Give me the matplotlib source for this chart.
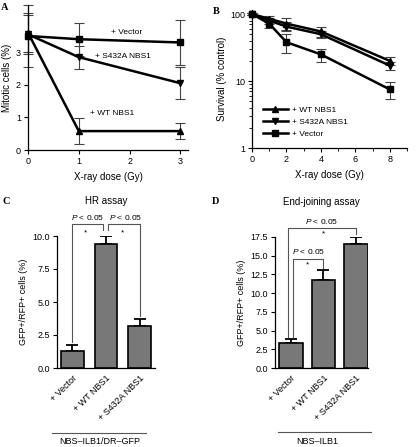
import matplotlib
matplotlib.use("Agg")
import matplotlib.pyplot as plt
import numpy as np

plt.rcParams['font.family'] = ['Liberation Sans', 'DejaVu Sans']
plt.rcParams['mathtext.fontset'] = 'custom'
plt.rcParams['mathtext.it'] = 'Liberation Sans:italic'
plt.rcParams['mathtext.rm'] = 'Liberation Sans'
plt.rcParams['font.size'] = 6.5

# Panel A data
dose_a = [0, 1, 3]
vector_a = [3.5, 3.4, 3.3]
vector_a_err = [0.95, 0.5, 0.7]
s432a_a = [3.55, 2.85, 2.05]
s432a_a_err = [0.6, 0.35, 0.5]
wt_a = [3.6, 0.58, 0.58]
wt_a_err = [0.6, 0.4, 0.25]

# Panel B data
dose_b = [0, 1, 2, 4, 8]
wt_b = [100, 85, 72, 55, 20]
wt_b_err = [4, 8, 14, 10, 2.5]
s432a_b = [100, 80, 65, 50, 17]
s432a_b_err = [4, 8, 10, 6, 2.5]
vector_b = [100, 72, 38, 25, 7.5]
vector_b_err = [4, 10, 12, 5.5, 2.2]

# Panels C, D data
bar_labels = ['+ Vector', '+ WT NBS1', '+ S432A NBS1']
hr_vals = [1.3, 9.4, 3.2]
hr_err = [0.45, 0.6, 0.55]
ej_vals = [3.3, 11.8, 16.5]
ej_err = [0.55, 1.3, 1.0]

fig = plt.figure(figsize=(4.2, 4.47), dpi=100)


def style(ax):
    ax.spines['top'].set_visible(False)
    ax.spines['right'].set_visible(False)
    ax.tick_params(direction='out', length=3, width=0.8, pad=2)
    for s in ['left', 'bottom']:
        ax.spines[s].set_linewidth(0.9)


# ---- A ----
axA = fig.add_axes([28/420, 1-150/447, 160/420, 145/447])
style(axA)
for y, e, m in [(vector_a, vector_a_err, 's'), (s432a_a, s432a_a_err, 'v'), (wt_a, wt_a_err, '^')]:
    axA.errorbar(dose_a, y, yerr=e, fmt='none', ecolor='#444444', elinewidth=0.8,
                 capsize=3.5, capthick=0.8, clip_on=False)
    axA.plot(dose_a, y, color='black', lw=1.8, marker=m, ms=5, clip_on=False, zorder=3)
axA.set_xlim(0, 3.15)
axA.set_ylim(0, 4.45)
axA.set_xticks([0, 1, 2, 3])
axA.set_yticks([0, 1, 2, 3])
axA.set_xlabel('X-ray dose (Gy)', fontsize=7, labelpad=4)
axA.set_ylabel('Mitotic cells (%)', fontsize=7, labelpad=3)
axA.text(1.95, 3.6, '+ Vector', ha='center', va='center', fontsize=6)
axA.text(1.86, 2.87, '+ S432A NBS1', ha='center', va='center', fontsize=6)
axA.text(1.65, 1.13, '+ WT NBS1', ha='center', va='center', fontsize=6)

# ---- B ----
axB = fig.add_axes([252/420, 1-148/447, 155/420, 138/447])
style(axB)
handles = []
for y, e, m, lab in [(wt_b, wt_b_err, '^', '+ WT NBS1'), (s432a_b, s432a_b_err, 'v', '+ S432A NBS1'),
                     (vector_b, vector_b_err, 's', '+ Vector')]:
    axB.errorbar(dose_b, y, yerr=e, fmt='none', ecolor='#444444', elinewidth=0.8,
                 capsize=3.5, capthick=0.8, clip_on=False)
    h, = axB.plot(dose_b, y, color='black', lw=1.8, marker=m, ms=5, clip_on=False, zorder=3, label=lab)
    handles.append(h)
axB.set_yscale('log')
axB.set_xlim(0, 9)
axB.set_ylim(1, 115)
axB.set_xticks([0, 2, 4, 6, 8])
axB.set_xticks([1, 3, 5, 7, 9], minor=True)
axB.set_yticks([1, 10, 100])
axB.set_yticklabels(['1', '10', '100'])
axB.tick_params(which='minor', length=2, width=0.6)
axB.set_xlabel('X-ray dose (Gy)', fontsize=7, labelpad=4)
axB.set_ylabel('Survival (% control)', fontsize=7, labelpad=2)
axB.legend(handles=handles, loc='lower left', bbox_to_anchor=(0.02, 0.02), frameon=False,
           fontsize=6, handlelength=3, handletextpad=0.5, labelspacing=0.5)

# ---- C ----
x = np.arange(3)
axC = fig.add_axes([57/420, 1-368/447, 98/420, 132/447])
style(axC)
axC.bar(x, hr_vals, width=0.68, color='#787878', edgecolor='black', lw=1.2, zorder=2)
axC.errorbar(x, hr_vals, yerr=[[0]*3, hr_err], fmt='none', ecolor='black', elinewidth=1.3,
             capsize=4, capthick=1.3, zorder=1)
axC.set_xlim(-0.46, 2.46)
axC.set_ylim(0, 10)
axC.set_yticks([0, 2.5, 5, 7.5, 10])
axC.set_yticklabels(['0.0', '2.5', '5.0', '7.5', '10.0'])
axC.set_xticks(x)
axC.set_xticklabels(bar_labels, rotation=45, ha='right', rotation_mode='anchor')
axC.tick_params(axis='x', length=0, pad=4)
axC.set_ylabel('GFP+/RFP+ cells (%)', fontsize=6.5, labelpad=3)
axC.set_title('HR assay', fontsize=7, pad=23)
bc = '#555555'
axC.plot([0, 0, 0.91, 0.91], [1.95, 10.9, 10.9, 10.45], color=bc, lw=0.8, clip_on=False)
axC.plot([1.07, 1.07, 2, 2], [10.45, 10.9, 10.9, 3.95], color=bc, lw=0.8, clip_on=False)
axC.text(0.45, 11.05, '$\\it{P}$ < 0.05', ha='center', va='bottom', fontsize=6, clip_on=False)
axC.text(1.58, 11.05, '$\\it{P}$ < 0.05', ha='center', va='bottom', fontsize=6, clip_on=False)
axC.text(0.38, 10.2, '*', ha='center', va='center', fontsize=6)
axC.text(1.5, 10.2, '*', ha='center', va='center', fontsize=6)
axC.plot([-0.6, 2.2], [-4.9, -4.9], color='#555555', lw=0.8, clip_on=False)
axC.text(0.8, -5.6, 'NBS\u2013ILB1/DR\u2013GFP', ha='center', va='center', fontsize=6.5)

# ---- D ----
axD = fig.add_axes([275/420, 1-368/447, 93/420, 131/447])
style(axD)
axD.bar(x, ej_vals, width=0.72, color='#787878', edgecolor='black', lw=1.2, zorder=2)
axD.errorbar(x, ej_vals, yerr=[[0]*3, ej_err], fmt='none', ecolor='black', elinewidth=1.3,
             capsize=4, capthick=1.3, zorder=1)
axD.set_xlim(-0.49, 2.37)
axD.set_ylim(0, 17.5)
axD.set_yticks(np.arange(0, 17.6, 2.5))
axD.set_yticklabels(['%.1f' % v for v in np.arange(0, 17.6, 2.5)])
axD.set_xticks(x)
axD.set_xticklabels(bar_labels, rotation=45, ha='right', rotation_mode='anchor')
axD.tick_params(axis='x', length=0, pad=4)
axD.set_ylabel('GFP+/RFP+ cells (%)', fontsize=6.5, labelpad=3)
axD.set_title('End-joining assay', fontsize=7, pad=23)
axD.plot([0.06, 0.06, 1, 1], [4.1, 14.55, 14.55, 13.4], color=bc, lw=0.8, clip_on=False)
axD.plot([-0.1, -0.1, 2, 2], [4.1, 18.7, 18.7, 17.9], color=bc, lw=0.8, clip_on=False)
axD.text(0.53, 14.9, '$\\it{P}$ < 0.05', ha='center', va='bottom', fontsize=6, clip_on=False)
axD.text(0.95, 19.0, '$\\it{P}$ < 0.05', ha='center', va='bottom', fontsize=6, clip_on=False)
axD.text(0.5, 13.75, '*', ha='center', va='center', fontsize=6)
axD.text(1.0, 17.9, '*', ha='center', va='center', fontsize=6)
axD.plot([-0.4, 2.45], [-8.6, -8.6], color='#555555', lw=0.8, clip_on=False)
axD.text(0.8, -9.85, 'NBS\u2013ILB1', ha='center', va='center', fontsize=6.5)

# panel letters
for lab, px, py in [('A', 5, 8), ('B', 216, 12), ('C', 6, 201), ('D', 216, 201)]:
    fig.text(px/420, 1-py/447, lab, fontsize=7.5, fontweight='bold',
             family='Liberation Serif', ha='center', va='center')

fig.savefig('out.png', dpi=100)
